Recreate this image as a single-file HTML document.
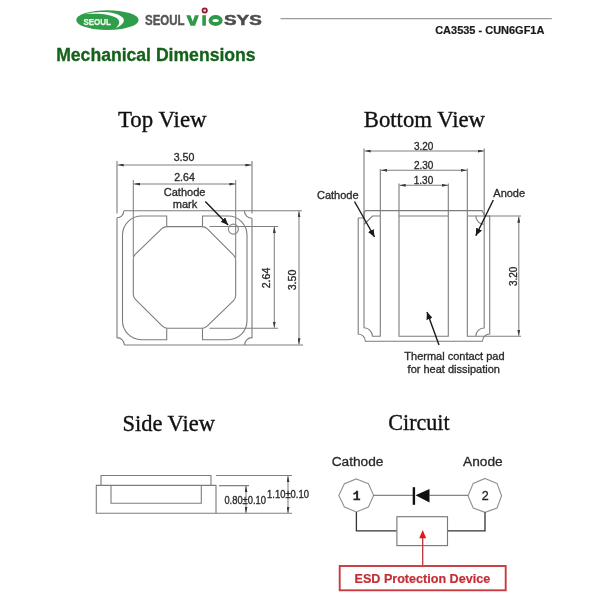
<!DOCTYPE html>
<html><head><meta charset="utf-8">
<style>
html,body{margin:0;padding:0;background:#fff;width:600px;height:600px;overflow:hidden}
svg{display:block;will-change:transform}
.s{font-family:"Liberation Sans",sans-serif}
.r{font-family:"Liberation Serif",serif}
.ln{fill:none;stroke:#7c7c7c;stroke-width:1.1}
.dm{fill:none;stroke:#808080;stroke-width:1.05}
.ti{stroke:#111;stroke-width:0.35}
.tx{stroke:#2a2a2a;stroke-width:0.32}
</style></head>
<body>
<svg width="600" height="600" viewBox="0 0 600 600">
<defs>
<marker id="ah" viewBox="0 0 10 6" refX="10" refY="3" markerWidth="6.2" markerHeight="3" preserveAspectRatio="none" orient="auto-start-reverse" markerUnits="userSpaceOnUse"><path d="M0,0 L10,3 L0,6 z" fill="#3a3a3a"/></marker>
<marker id="cb" viewBox="0 0 10 10" refX="10" refY="5" markerWidth="7.5" markerHeight="6.5" preserveAspectRatio="none" orient="auto" markerUnits="userSpaceOnUse"><path d="M0,0 L10,5 L0,10 z" fill="#1a1a1a"/></marker>
</defs>

<!-- ===== HEADER ===== -->
<ellipse cx="107.4" cy="20.1" rx="31.2" ry="9.9" fill="#2f9d49"/>
<path d="M84.5,14.2 C98,10.6 117.5,11.4 123.3,18.2 C125.6,22 121,26 115.6,27.9 C119,25.3 120.2,22 118.2,19.4 C114,14.6 99,12.8 84.5,14.2 Z" fill="#fff"/>
<text x="83.4" y="24.6" class="s" font-weight="bold" font-size="8.8" fill="#eef9ee" stroke="#eef9ee" stroke-width="0.25" textLength="27.6" lengthAdjust="spacingAndGlyphs">SEOUL</text>
<text x="145" y="25.3" class="s" font-weight="bold" font-size="14" fill="#555557" stroke="#555557" stroke-width="0.4" textLength="39.6" lengthAdjust="spacingAndGlyphs">SEOUL</text>
<path d="M186.2,15.2 H190.4 L192.7,21.4 L194.9,15.2 H198.9 L195.1,25.7 H190.5 Z" fill="#2e9a48"/>
<ellipse cx="215.6" cy="20.5" rx="5.1" ry="3.5" fill="none" stroke="#2e9a48" stroke-width="3.9"/>
<rect x="202.3" y="15.2" width="3.6" height="10.5" fill="#2e9a48"/>
<circle cx="204.7" cy="10.5" r="2.2" fill="#f2d4d8" stroke="#8e1b2c" stroke-width="1.7"/>
<text x="224" y="25.4" class="s" font-weight="bold" font-size="14" fill="#4d4d4f" stroke="#4d4d4f" stroke-width="0.5" textLength="37.8" lengthAdjust="spacingAndGlyphs">SYS</text>
<line x1="280.5" y1="18.6" x2="551.8" y2="18.6" stroke="#9a9a9a" stroke-width="1.3"/>
<text x="435.2" y="33.7" class="s" font-weight="bold" font-size="11" fill="#1a1a1a" stroke="#1a1a1a" stroke-width="0.2" textLength="109.2" lengthAdjust="spacingAndGlyphs">CA3535 - CUN6GF1A</text>
<text x="56.2" y="61" class="s" font-weight="bold" font-size="17.6" fill="#15621a" stroke="#15621a" stroke-width="0.3" textLength="199.4" lengthAdjust="spacingAndGlyphs">Mechanical Dimensions</text>

<!-- ===== TOP VIEW ===== -->
<text transform="translate(118,127) scale(1,1.02)" x="0" y="0" class="r ti" font-size="22.8" fill="#111" textLength="88.6" lengthAdjust="spacingAndGlyphs">Top View</text>
<!-- outer package -->
<path class="ln" d="M117,161 V213.6 M117,217.8 V337.6 A7.4,7.4 0 0 1 124.4,345 M117,217.8 A6.8,6.8 0 0 0 123.8,211 V210.7 M123.8,210.7 H302 M252,161 V213.6 M252,218.3 V337.6 A7.4,7.4 0 0 0 244.6,345 M252,218.3 A7.6,7.6 0 0 1 244.4,210.7 M124.4,345 H303"/>
<!-- inner outline with notches -->
<path class="ln" d="M141.5,216 H166.7 V226.3 M202.5,226.3 V216 H228 A19,19 0 0 1 247,235 V320.7 A19,19 0 0 1 228,339.7 H202.5 V328.3 M166.7,328.3 V339.7 H141.5 A19,19 0 0 1 122.5,320.7 V235 A19,19 0 0 1 141.5,216"/>
<!-- octagon -->
<path class="ln" d="M167.00,226.60 L202.00,226.60 Q205.00,226.60 207.12,228.72 L233.58,255.18 Q235.70,257.30 235.70,260.30 L235.70,295.50 Q235.70,298.50 233.55,300.59 L207.15,326.21 Q205.00,328.30 202.00,328.30 L167.50,328.30 Q164.50,328.30 162.38,326.18 L135.42,299.32 Q133.30,297.20 133.30,294.20 L133.30,259.20 Q133.30,256.20 135.46,254.12 L161.84,228.68 Q164.00,226.60 167.00,226.60 Z"/>
<!-- extension lines -->
<path class="dm" d="M133.3,180 V257 M235.7,180 V258 M209.5,226.5 H278 M209.5,328.3 H278"/>
<!-- dims -->
<line class="dm" x1="117.5" y1="165" x2="251.5" y2="165" marker-start="url(#ah)" marker-end="url(#ah)"/>
<line class="dm" x1="133.8" y1="184" x2="235.5" y2="184" marker-start="url(#ah)" marker-end="url(#ah)"/>
<line class="dm" x1="274.3" y1="226.8" x2="274.3" y2="327.8" marker-start="url(#ah)" marker-end="url(#ah)"/>
<line class="dm" x1="299" y1="211.2" x2="299" y2="344.5" marker-start="url(#ah)" marker-end="url(#ah)"/>
<g class="s tx" font-size="10.6" fill="#2a2a2a" text-anchor="middle">
<text x="184" y="161.3">3.50</text>
<text x="184.5" y="180.8">2.64</text>
<text transform="translate(269.8,278) rotate(-90)">2.64</text>
<text transform="translate(295.8,280) rotate(-90)">3.50</text>
</g>
<g class="s tx" font-size="11" fill="#2a2a2a" text-anchor="middle">
<text x="184.6" y="195.8">Cathode</text>
<text x="185" y="208.3">mark</text>
</g>
<circle cx="233.4" cy="229.1" r="5" fill="none" stroke="#858585" stroke-width="1.1"/>
<line x1="205.3" y1="201.4" x2="228.1" y2="225" stroke="#1a1a1a" stroke-width="1.4" marker-end="url(#cb)"/>

<!-- ===== BOTTOM VIEW ===== -->
<text transform="translate(363.8,127) scale(1,1.02)" x="0" y="0" class="r ti" font-size="22.7" fill="#111" textLength="121.2" lengthAdjust="spacingAndGlyphs">Bottom View</text>
<!-- outline -->
<path class="ln" d="M358.2,218 V334 A7.3,7.3 0 0 1 365.3,341.3 H482.5 A7.3,7.3 0 0 1 489.7,334 V216 H485 L482,210.6 H366.5 Q364,210.6 364,213.5 V218 H358.2"/>
<!-- cathode pad -->
<path class="ln" d="M364,148.5 V327.8 A8.5,8.5 0 0 1 372.5,336.3 H380.3 V169 M364,224.5 L372.5,216 H380.3"/>
<!-- thermal pad -->
<path class="ln" d="M399,183.5 V336.3 H448.3 V183.5 M399,216 H448.3"/>
<!-- anode pad -->
<path class="ln" d="M467.3,168.5 V336.3 H475.8 A8.2,8.2 0 0 1 484.2,328 V148.5 M467.3,216 H475.8 A8.2,8.2 0 0 0 484.2,224.3"/>
<path class="dm" d="M475.8,216 H521 M475.8,336.3 H521"/>
<line class="dm" x1="364.5" y1="151" x2="484" y2="151" marker-start="url(#ah)" marker-end="url(#ah)"/>
<line class="dm" x1="380.8" y1="170.3" x2="467" y2="170.3" marker-start="url(#ah)" marker-end="url(#ah)"/>
<line class="dm" x1="399.5" y1="185.3" x2="448" y2="185.3" marker-start="url(#ah)" marker-end="url(#ah)"/>
<line class="dm" x1="518.8" y1="216.5" x2="518.8" y2="335.8" marker-start="url(#ah)" marker-end="url(#ah)"/>
<g class="s tx" font-size="10" fill="#2a2a2a" text-anchor="middle">
<text x="423.7" y="149.7">3.20</text>
<text x="423.7" y="168.7">2.30</text>
<text x="423.5" y="184.2">1.30</text>
<text transform="translate(517.3,276.3) rotate(-90)">3.20</text>
</g>
<g class="s tx" font-size="11" fill="#2a2a2a">
<text x="317" y="199">Cathode</text>
<text x="493.3" y="197.3">Anode</text>
<text x="404.3" y="360.3">Thermal contact pad</text>
<text x="407.6" y="372.8">for heat dissipation</text>
</g>
<line x1="354.5" y1="201.5" x2="374.5" y2="237" stroke="#1a1a1a" stroke-width="1.4" marker-end="url(#cb)"/>
<line x1="493.3" y1="200" x2="475.8" y2="235.8" stroke="#1a1a1a" stroke-width="1.4" marker-end="url(#cb)"/>
<line x1="439" y1="345" x2="427" y2="312" stroke="#1a1a1a" stroke-width="1.4" marker-end="url(#cb)"/>

<!-- ===== SIDE VIEW ===== -->
<text transform="translate(122.4,431) scale(1,1.02)" x="0" y="0" class="r ti" font-size="22.5" fill="#111" textLength="92.6" lengthAdjust="spacingAndGlyphs">Side View</text>
<path class="ln" d="M101,485.4 V475.5 H211 V485.4 M96.3,485.4 H216 V513.3 H96.3 Z M111,485.4 V503.2 H201.3 V485.4"/>
<path class="dm" d="M216,475.5 H292 M219,485.6 H249 M216,513.3 H292"/>
<line class="dm" x1="246" y1="486" x2="246" y2="513" marker-start="url(#ah)" marker-end="url(#ah)"/>
<line class="dm" x1="288" y1="476" x2="288" y2="513" marker-start="url(#ah)" marker-end="url(#ah)"/>
<g class="s tx" font-size="10.5" fill="#2a2a2a">
<text x="224.4" y="503.6" textLength="41.6" lengthAdjust="spacingAndGlyphs">0.80±0.10</text>
<text x="267" y="498" textLength="42" lengthAdjust="spacingAndGlyphs">1.10±0.10</text>
</g>

<!-- ===== CIRCUIT ===== -->
<text transform="translate(388.3,429.7) scale(1,1.02)" x="0" y="0" class="r ti" font-size="22.5" fill="#111" textLength="61.3" lengthAdjust="spacingAndGlyphs">Circuit</text>
<g class="s tx" font-size="13.7" fill="#2a2a2a">
<text x="331.7" y="465.8">Cathode</text>
<text x="463.1" y="465.8">Anode</text>
</g>
<polygon points="356.4,478.9 368.4,483.75 373.6,495.4 368.4,507 356.4,511.9 344.4,507 338.8,495.4 344.4,483.75" fill="#fff" stroke="#909090" stroke-width="1.1"/>
<polygon points="485.1,478.4 497,483.4 501.6,495.8 497,508 485.1,512.3 473.2,508 468,495.8 473.2,483.4" fill="#fff" stroke="#909090" stroke-width="1.1"/>
<g class="s tx" font-size="12.5" fill="#222" text-anchor="middle">
<text x="356.6" y="500" font-family="Liberation Mono" font-weight="bold" font-size="13">1</text>
<text x="485.3" y="500.3">2</text>
</g>
<path d="M373.6,495.3 H413 M429.5,495.3 H468" stroke="#666" stroke-width="1"/>
<rect x="412.7" y="487.2" width="2.4" height="17.6" fill="#111"/>
<polygon points="415.5,495.3 429.5,489 429.5,502.5" fill="#111"/>
<path d="M356.4,512 V530.8 H396.7 M447.7,530.8 H485 V512.3" fill="none" stroke="#333" stroke-width="1.3"/>
<rect x="396.9" y="516.7" width="50.6" height="28.9" fill="none" stroke="#7a7a7a" stroke-width="1.15"/>
<line x1="422.7" y1="565.5" x2="422.7" y2="537" stroke="#b8343c" stroke-width="1.3"/>
<polygon points="422.7,530 419.2,538.3 426.2,538.3" fill="#e2181c"/>
<rect x="339.7" y="566" width="166" height="24.3" fill="none" stroke="#c93a40" stroke-width="1.9"/>
<text x="354.5" y="582.5" class="s" font-weight="bold" font-size="12.6" fill="#c42e38" stroke="#c42e38" stroke-width="0.2" textLength="135.7" lengthAdjust="spacingAndGlyphs">ESD Protection Device</text>
</svg>
</body></html>
